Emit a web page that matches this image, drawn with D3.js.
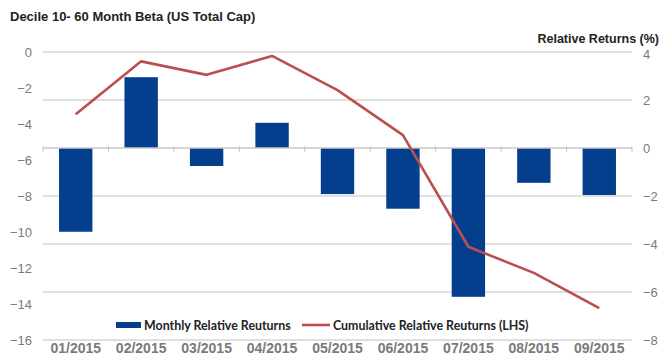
<!DOCTYPE html>
<html>
<head>
<meta charset="utf-8">
<script src="https://cdn.jsdelivr.net/npm/d3@7"></script>
<style>
  body { margin: 0; background: #fff; }
  svg { font-family: "Liberation Sans", Arial, sans-serif; }
</style>
</head>
<body>
<div id="chart"></div>
<script>
let months = ["01/2015", "02/2015", "03/2015", "04/2015", "05/2015", "06/2015", "07/2015", "08/2015", "09/2015"];
let monthly = [-3.49, 2.95, -0.75, 1.05, -1.92, -2.53, -6.2, -1.45, -1.96];
let cumulative = [-3.46, -0.52, -1.27, -0.22, -2.12, -4.62, -10.82, -12.27, -14.23];
let leftTicks = [0, -2, -4, -6, -8, -10, -12, -14, -16];
let rightTicks = [4, 2, 0, -2, -4, -6, -8];

function drawChart(width = 661, height = 362) {
    let margin = {top: 52, right: 29, bottom: 22, left: 43};
    let innerW = width - margin.left - margin.right;
    let innerH = height - margin.top - margin.bottom;

    let svg = d3.select("#chart").append("svg")
        .attr("width", width)
        .attr("height", height);

    let plot = svg.append("g")
        .attr("transform", "translate(" + margin.left + "," + margin.top + ")");

    let x = d3.scaleBand().domain(months).range([0, innerW]).paddingInner(0.49).paddingOuter(0.245);
    let xTick = d3.scaleBand().domain(months).range([0, innerW]);
    let yLeft = d3.scaleLinear().domain([-16, 0]).range([innerH, 0]);
    let yRight = d3.scaleLinear().domain([-8, 4]).range([innerH, 0]);

    // gridlines follow the right axis
    plot.append("g")
        .selectAll("line")
        .data(rightTicks.filter(d => d !== 0))
        .enter().append("line")
        .attr("x1", 0).attr("x2", innerW)
        .attr("y1", d => yRight(d)).attr("y2", d => yRight(d))
        .attr("stroke", "#d4d4d4")
        .attr("stroke-width", 1.3);

    // bars
    plot.selectAll("rect.bar")
        .data(monthly)
        .enter().append("rect")
        .attr("class", "bar")
        .attr("x", (d, i) => x(months[i]))
        .attr("width", x.bandwidth())
        .attr("y", d => yRight(Math.max(0, d)))
        .attr("height", d => Math.abs(yRight(d) - yRight(0)))
        .attr("fill", "#033f8c");

    // zero axis with category ticks
    let zero = yRight(0);
    plot.append("line")
        .attr("x1", 0).attr("x2", innerW)
        .attr("y1", zero).attr("y2", zero)
        .attr("stroke", "#c8c8c8")
        .attr("stroke-width", 1.3);
    plot.append("g")
        .selectAll("line")
        .data(months.concat(["end"]))
        .enter().append("line")
        .attr("x1", (d, i) => i * xTick.step()).attr("x2", (d, i) => i * xTick.step())
        .attr("y1", zero - 2).attr("y2", zero + 4)
        .attr("stroke", "#c8c8c8");

    // cumulative line on left axis
    let line = d3.line()
        .x((d, i) => x(months[i]) + x.bandwidth() / 2)
        .y(d => yLeft(d));
    plot.append("path")
        .datum(cumulative)
        .attr("d", line)
        .attr("fill", "none")
        .attr("stroke", "#b9504f")
        .attr("stroke-width", 2.6)
        .attr("stroke-linejoin", "round");

    // left axis
    let leftAxis = d3.axisLeft(yLeft).tickValues(leftTicks).tickSize(0).tickPadding(11);
    let gl = plot.append("g").call(leftAxis);
    gl.select(".domain").remove();
    gl.selectAll("text").attr("fill", "#7a7a7a").attr("font-size", 13);

    // right axis
    let rightAxis = d3.axisRight(yRight).tickValues(rightTicks).tickSize(0).tickPadding(11);
    let gr = plot.append("g").attr("transform", "translate(" + innerW + ",0)").call(rightAxis);
    gr.select(".domain").remove();
    gr.selectAll("text").attr("fill", "#7a7a7a").attr("font-size", 13)
        .attr("dy", d => d === 4 ? "0.5em" : "0.32em");

    // x labels
    let xAxis = d3.axisBottom(xTick).tickSize(0).tickPadding(3);
    let gx = plot.append("g").attr("transform", "translate(0," + innerH + ")").call(xAxis);
    gx.select(".domain").remove();
    gx.selectAll("text").attr("fill", "#7a7a7a").attr("font-size", 14).attr("font-weight", "bold");

    // titles
    svg.append("text")
        .attr("x", 10).attr("y", 21)
        .attr("font-size", 13).attr("font-weight", "bold").attr("fill", "#222")
        .text("Decile 10- 60 Month Beta (US Total Cap)");
    svg.append("text")
        .attr("x", 659).attr("y", 43)
        .attr("text-anchor", "end")
        .attr("font-size", 12.5).attr("font-weight", "bold").attr("fill", "#222")
        .text("Relative Returns (%)");

    // legend
    let legend = svg.append("g").attr("font-family", "Lato, 'Open Sans', sans-serif")
        .attr("font-size", 12.4).attr("font-weight", "bold").attr("fill", "#222");
    legend.append("rect").attr("x", 116).attr("y", 322).attr("width", 25).attr("height", 6).attr("fill", "#033f8c");
    legend.append("text").attr("x", 144).attr("y", 329.5).text("Monthly Relative Reuturns");
    legend.append("line").attr("x1", 302).attr("x2", 330).attr("y1", 325).attr("y2", 325)
        .attr("stroke", "#b9504f").attr("stroke-width", 2.6);
    legend.append("text").attr("x", 333).attr("y", 329.5).text("Cumulative Relative Reuturns (LHS)");
}

drawChart();
</script>
</body>
</html>
